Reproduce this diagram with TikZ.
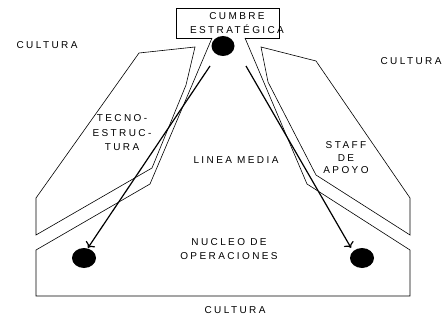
\documentclass[tikz,border=0pt]{standalone}
\usepackage{fontspec}
\newfontfamily\spacedsans[LetterSpace=24]{Liberation Sans}
\usetikzlibrary{arrows.meta,shapes.geometric}

\begin{document}
\begin{tikzpicture}[x=1pt, y=-1pt,
    every node/.style={
        font=\spacedsans\fontsize{10}{14}\selectfont,
        align=center,
        inner sep=0pt
    },
    part/.style={draw, line width=0.6pt, line join=miter},
    blob/.style={ellipse, fill=black, minimum width=24pt, minimum height=20pt},
    flow/.style={line width=1.2pt, -{To[length=5pt, width=11pt]}}
]
    \useasboundingbox (0,0) rectangle (446,320);

    %apex
    \draw[part] (212,38) -- (176,38) -- (176,8) -- (279,8) -- (279,38) -- (245,38);
    \node (cumbre) at (237,23.5) {CUMBRE\\ESTRAT\'EGICA};

    %support parts
    \draw[part] (139,53) -- (195,47) -- (186,85) -- (152,168) -- (36,235) -- (36,198) -- cycle;
    \draw[part] (261,47) -- (316,61) -- (410,198) -- (410,235) -- (316,175) -- (268,82) -- cycle;

    %middle line and core
    \draw[part] (212,38) -- (150,184) -- (36,250) -- (36,296) -- (410,296) -- (410,250) -- (307,184) -- (245,38);

    %blobs
    \node (apex_blob) [blob, minimum width=23pt] at (223,46) {};
    \node (core_left) [blob] at (84,258) {};
    \node (core_right) [blob] at (362,258) {};

    %labels
    \node (cultura_left) at (47,45) {CULTURA};
    \node (cultura_right) at (411,61) {CULTURA};
    \node (cultura_bottom) at (235,310) {CULTURA};
    \node (tecno) [font=\spacedsans\fontsize{10}{14.5}\selectfont] at (122,133) {TECNO-\\ESTRUC-\\TURA};
    \node (staff) [font=\spacedsans\fontsize{10}{12.5}\selectfont] at (346,158) {STAFF\\DE\\APOYO};
    \node (linea_media) at (236,160) {LINEA MEDIA};
    \node (nucleo) at (229,249) {NUCLEO DE\\OPERACIONES};

    %flows
    \coordinate (left_tail) at (210,66);
    \coordinate (right_tail) at (246,66);
    \draw[flow] (left_tail) -- ([xshift=4pt]core_left.north);
    \draw[flow] (right_tail) -- ([xshift=-11pt]core_right.north);

\end{tikzpicture}
\end{document}
